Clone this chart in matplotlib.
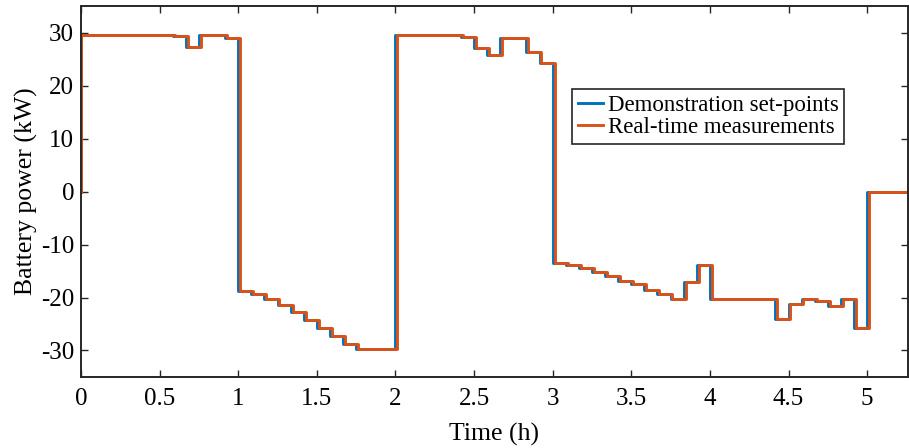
import numpy as np
import matplotlib
matplotlib.use("Agg")
import matplotlib.pyplot as plt

# battery power per 5-min slot (kW), 0 h .. 5 h
setpoint_power = [
    29.6, 29.6, 29.6, 29.6, 29.6, 29.6, 29.6, 29.3, 27.3, 29.6, 29.6, 28.9,
    -18.8, -19.4, -20.3, -21.5, -22.8, -24.2, -25.7, -27.3, -28.8, -29.8, -29.8, -29.8,
    29.6, 29.6, 29.6, 29.6, 29.6, 29.2, 27.1, 25.7, 28.9, 28.9, 26.4, 24.2,
    -13.5, -13.8, -14.4, -15.1, -15.9, -16.8, -17.5, -18.5, -19.3, -20.3, -17.1, -13.9,
    -20.3, -20.3, -20.3, -20.3, -20.3, -24.1, -21.3, -20.3, -20.6, -21.6, -20.3, -25.7,
]
measured_power = list(setpoint_power)
meas_lag = 0.012      # h, measurement delay
t_end = 5.26

slot = 1 / 12
edges = np.arange(len(setpoint_power) + 1) * slot

t_sp = np.concatenate([[0], edges, [t_end]])
p_sp = np.concatenate([[0], setpoint_power, [0, 0]])
t_me = np.concatenate([[0], edges + meas_lag, [t_end]])
t_me[1] = 0.003
p_me = np.concatenate([[0], measured_power, [0, 0]])

plt.rcParams['font.family'] = ['Liberation Serif', 'DejaVu Serif']
plt.rcParams['axes.unicode_minus'] = False

fig = plt.figure(figsize=(9.09, 4.48), dpi=100)
ax = fig.add_axes([0.0891, 0.1585, 0.9098, 0.828])

ax.step(t_sp, p_sp, where='post', color='#0072BD', lw=2.1,
        label='Demonstration set-points')
ax.step(t_me, p_me, where='post', color='#D95319', lw=2.1,
        label='Real-time measurements')

ax.set_xlim(0, t_end)
ax.set_ylim(-35, 35)
ax.set_xticks(np.arange(0, 5.01, 0.5))
ax.set_xticklabels(['0', '0.5', '1', '1.5', '2', '2.5', '3', '3.5', '4', '4.5', '5'])
ax.set_yticks(np.arange(-30, 31, 10))
ax.tick_params(direction='in', top=True, right=True, length=5, width=1,
               labelsize=18, colors='#262626', labelcolor='black')
ax.tick_params(axis='x', pad=8)
ax.tick_params(axis='y', pad=5)
for s in ax.spines.values():
    s.set_linewidth(1.4)
    s.set_color('#262626')

ax.set_xlabel('Time (h)', fontsize=18.5, labelpad=9)
ax.set_ylabel('Battery power (kW)', fontsize=18.5, labelpad=2)

leg = ax.legend(loc='upper left', bbox_to_anchor=(0.594, 0.776), borderaxespad=0,
                fontsize=16.5, handlelength=1.1, handletextpad=0.2,
                labelspacing=0.05, borderpad=0.25, fancybox=False, framealpha=1)
leg.get_frame().set_edgecolor('#262626')
leg.get_frame().set_linewidth(1.2)

fig.savefig('out.png', dpi=100)
